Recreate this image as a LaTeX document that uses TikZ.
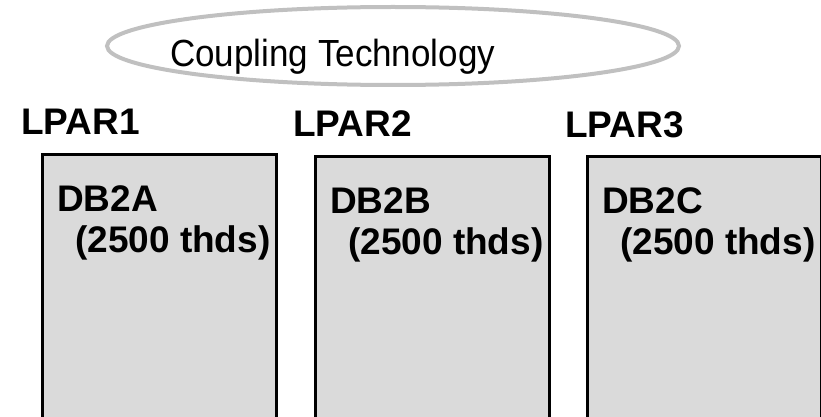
\documentclass[tikz,border=0pt]{standalone}
\usepackage{fontspec}
\setmainfont{Liberation Sans}
\usetikzlibrary{shapes.geometric}
\definecolor{ringgray}{HTML}{C0C0C0}
\definecolor{boxgray}{HTML}{DADADA}
\begin{document}
\begin{tikzpicture}[x=1pt,y=-1pt,
  bigtext/.style={inner sep=0pt,anchor=base west,font=\fontsize{35}{41}\selectfont,yscale=1.08},
  boldtext/.style={inner sep=0pt,anchor=base west,font=\fontsize{37}{41}\selectfont\bfseries},
  lparbox/.style={draw=black,line width=3pt,fill=boxgray,anchor=north west,
    minimum width=234pt,minimum height=270pt,inner sep=0pt},
  ring/.style={ellipse,draw=ringgray,line width=4pt,minimum width=572pt,minimum height=78pt,inner sep=0pt}]
\useasboundingbox (0,0) rectangle (821,417);
\begin{scope}
\clip (0,0) rectangle (821,417);
\node[ring] (cpl) at (393,46) {};
\node[bigtext] (cpltxt) at (170,67) {Coupling Technology};

\node[boldtext] (lp1) at (21,135) {LPAR1};
\node[boldtext] (lp2) at (293,136) {LPAR2};
\node[boldtext] (lp3) at (565,137) {LPAR3};

\node[lparbox] (b1) at (41,153) {};
\node[lparbox] (b2) at (314,155) {};
\node[lparbox] (b3) at (586,155) {};

\node[boldtext] (n1) at (57,211) {DB2A};
\node[boldtext] (t1) at (75,252) {(2500 thds)};
\node[boldtext] (n2) at (330,213) {DB2B};
\node[boldtext] (t2) at (348,254) {(2500 thds)};
\node[boldtext] (n3) at (602,213) {DB2C};
\node[boldtext] (t3) at (620,254) {(2500 thds)};
\end{scope}
\end{tikzpicture}
\end{document}
